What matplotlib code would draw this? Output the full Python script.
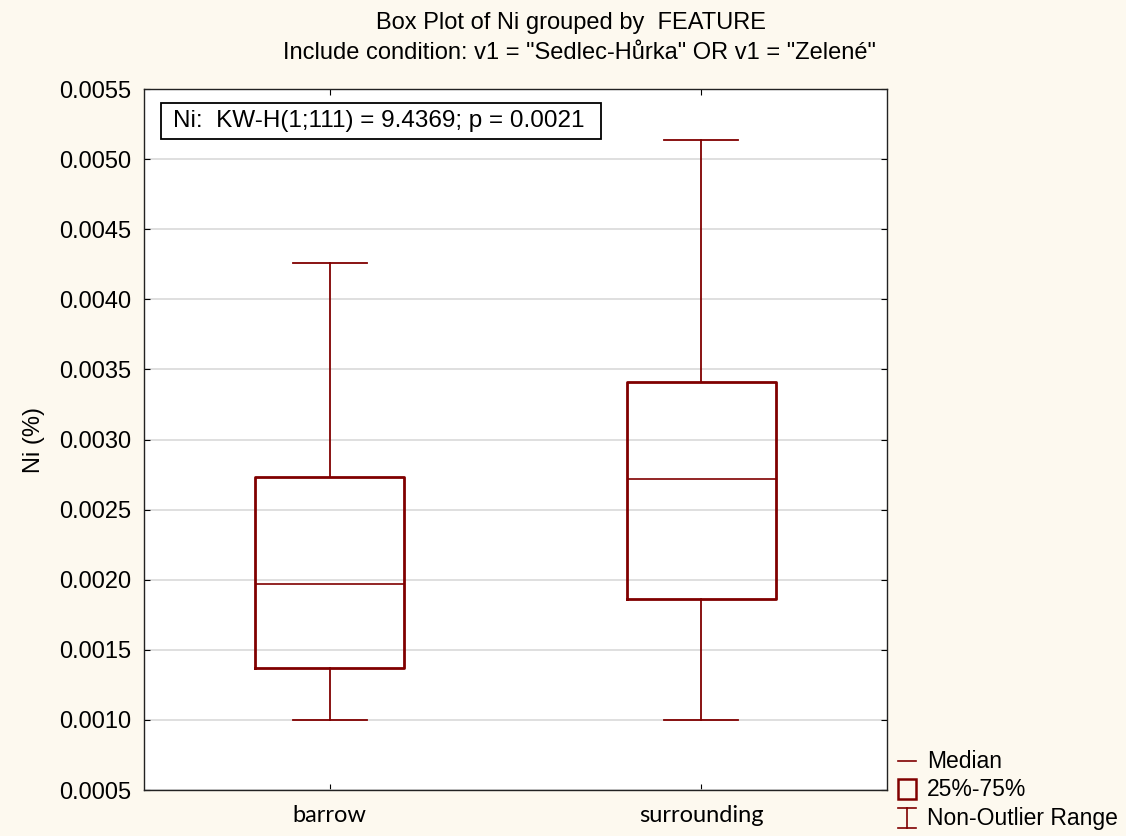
import matplotlib
import matplotlib.pyplot as plt
from matplotlib.lines import Line2D
from matplotlib.patches import Rectangle

matplotlib.use('Agg')

# Ni (%) summary per feature: non-outlier min, quartiles, median, non-outlier max
groups = ['barrow', 'surrounding']
whisker_low = [0.0010, 0.0010]
q1 = [0.00137, 0.00186]
median = [0.00197, 0.00272]
q3 = [0.00273, 0.00341]
whisker_high = [0.00426, 0.00514]

y_ticks = [0.0005, 0.0010, 0.0015, 0.0020, 0.0025, 0.0030,
           0.0035, 0.0040, 0.0045, 0.0050, 0.0055]

title_1 = 'Box Plot of Ni grouped by  FEATURE'
title_2 = 'Include condition: v1 = "Sedlec-Hůrka" OR v1 = "Zelené"'
test_text = 'Ni:  KW-H(1;111) = 9.4369; p = 0.0021'

BOX = '#800000'
BG = '#fdf9ef'

plt.rcParams['font.family'] = ['Liberation Sans', 'DejaVu Sans']

fig = plt.figure(figsize=(11.26, 8.36), dpi=100, facecolor=BG)
ax = fig.add_axes([0.1279, 0.0550, 0.6599, 0.8385])
ax.set_facecolor('white')

stats = []
for i, g in enumerate(groups):
    stats.append(dict(label=g, whislo=whisker_low[i], q1=q1[i], med=median[i],
                      q3=q3[i], whishi=whisker_high[i], fliers=[]))

ax.bxp(stats, positions=[1, 2], widths=0.4, showfliers=False,
       boxprops=dict(color=BOX, linewidth=2.0),
       medianprops=dict(color=BOX, linewidth=1.2),
       whiskerprops=dict(color=BOX, linewidth=1.3),
       capprops=dict(color=BOX, linewidth=1.3),
       capwidths=0.2, zorder=3)

ax.set_xlim(0.5, 2.5)
ax.set_ylim(0.0005, 0.0055)
ax.set_yticks(y_ticks)
ax.set_yticklabels([f'{v:.4f}' for v in y_ticks])
ax.yaxis.grid(True, color='#d6d6d6', linewidth=1.1, zorder=0)
ax.set_axisbelow(True)

ax.tick_params(axis='y', direction='in', length=4, left=True, right=True,
               labelsize=17, pad=9)
ax.tick_params(axis='x', direction='in', length=4, top=True, bottom=True,
               labelsize=17, pad=11)
for lab in ax.get_xticklabels():
    lab.set_family(['Lato', 'DejaVu Sans'])
for sp in ax.spines.values():
    sp.set_linewidth(1.0)
    sp.set_color('#222222')

# Kruskal-Wallis result box
ax.add_patch(Rectangle((0.0229, 0.9287), 0.5922, 0.0514, transform=ax.transAxes,
                       facecolor='white', edgecolor='black', linewidth=1.3,
                       zorder=5))
ax.text(0.039, 0.9544, test_text, transform=ax.transAxes, fontsize=17.5,
        ha='left', va='center', zorder=6)

fig.text(0.030, 0.4737, 'Ni (%)', rotation=90, fontsize=17,
         ha='center', va='center')
fig.text(0.507, 0.9725, title_1, fontsize=17, ha='center', va='center')
fig.text(0.515, 0.9366, title_2, fontsize=17, ha='center', va='center')

# legend symbols, figure pixel positions
W, H = 1126.0, 836.0


def fx(px):
    return px / W


def fy(py):
    return 1 - py / H


fig.add_artist(Line2D([fx(898), fx(916)], [fy(761), fy(761)], color=BOX,
                      linewidth=1.2))
fig.add_artist(Rectangle((fx(898), fy(799)), fx(18), 20 / H, facecolor='none',
                         edgecolor=BOX, linewidth=1.8, transform=fig.transFigure))
fig.add_artist(Line2D([fx(907), fx(907)], [fy(808), fy(828)], color=BOX,
                      linewidth=1.2))
fig.add_artist(Line2D([fx(898), fx(916)], [fy(808), fy(808)], color=BOX,
                      linewidth=1.2))
fig.add_artist(Line2D([fx(898), fx(916)], [fy(828), fy(828)], color=BOX,
                      linewidth=1.2))
for label, py in zip(['Median', '25%-75%', 'Non-Outlier Range'], [761, 789, 818]):
    fig.text(fx(927), fy(py), label, fontsize=16.5, ha='left', va='center')

fig.savefig('out.png', dpi=100, facecolor=BG)
